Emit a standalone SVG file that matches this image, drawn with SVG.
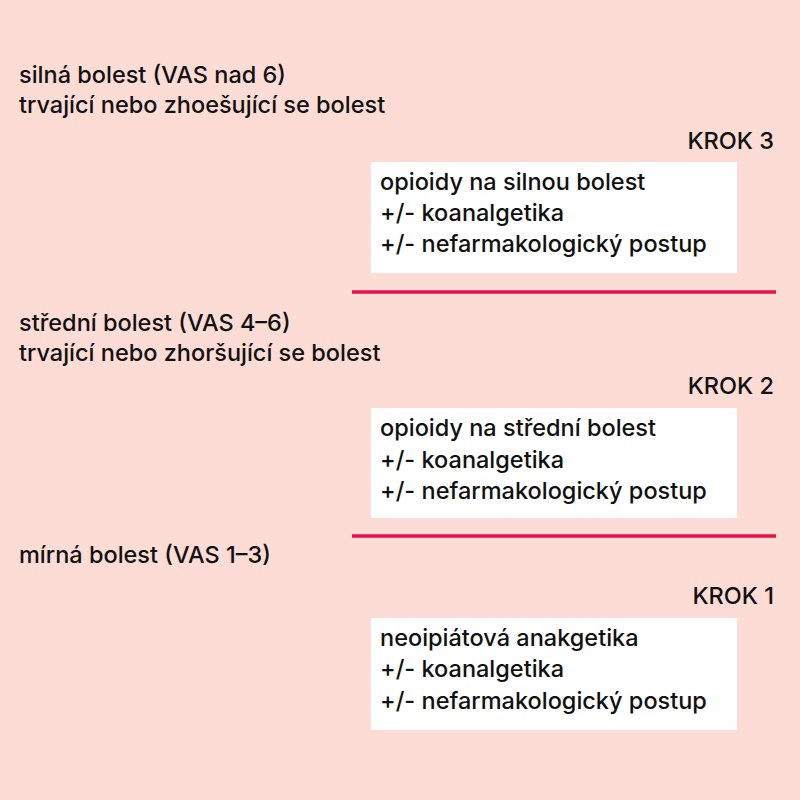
<svg xmlns="http://www.w3.org/2000/svg" width="800" height="800" viewBox="0 0 800 800">
<style>
.t{font-family:Inter,"Open Sans","Liberation Sans",sans-serif;font-size:23.5px;font-weight:500;fill:#111;}
.r{text-anchor:end;}
.box{fill:#ffffff;}
.sep{stroke:#e5124b;stroke-width:3.5;}
</style>
<rect x="0" y="0" width="800" height="800" fill="#fddcd6"/>
<g id="level3">
<text class="t" x="19" y="83">silná bolest (VAS nad 6)</text>
<text class="t" x="19" y="113">trvající nebo zhoešující se bolest</text>
<text class="t r" x="774" y="149">KROK 3</text>
</g>
<g id="box3">
<rect class="box" x="371" y="162" width="366" height="111"/>
<text class="t" x="380" y="190">opioidy na silnou bolest</text>
<text class="t" x="380" y="221">+/- koanalgetika</text>
<text class="t" x="380" y="252">+/- nefarmakologický postup</text>
</g>
<g id="level2">
<text class="t" x="19" y="331">střední bolest (VAS 4–6)</text>
<text class="t" x="19" y="361">trvající nebo zhoršující se bolest</text>
<text class="t r" x="774" y="394">KROK 2</text>
</g>
<g id="box2">
<rect class="box" x="371" y="408" width="366" height="110"/>
<text class="t" x="380" y="436">opioidy na střední bolest</text>
<text class="t" x="380" y="468">+/- koanalgetika</text>
<text class="t" x="380" y="499">+/- nefarmakologický postup</text>
</g>
<g id="level1">
<text class="t" x="19" y="563">mírná bolest (VAS 1–3)</text>
<text class="t r" x="774" y="604">KROK 1</text>
</g>
<g id="box1">
<rect class="box" x="371" y="618" width="366" height="112"/>
<text class="t" x="380" y="646">neoipiátová anakgetika</text>
<text class="t" x="380" y="677">+/- koanalgetika</text>
<text class="t" x="380" y="709">+/- nefarmakologický postup</text>
</g>
<g id="connectors">
<line class="sep" x1="352" y1="292" x2="776" y2="292"/>
<line class="sep" x1="352" y1="536" x2="776" y2="536"/>
</g>
</svg>
